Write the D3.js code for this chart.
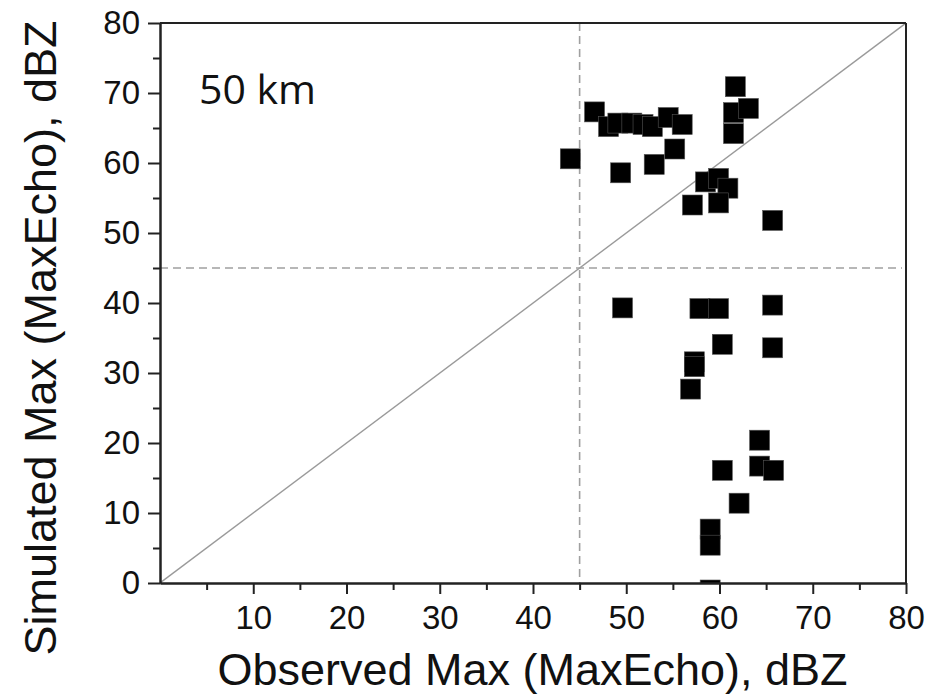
<!DOCTYPE html>
<html>
<head>
<meta charset="utf-8">
<script src="https://cdn.jsdelivr.net/npm/d3@7"></script>
<style>
  body { margin: 0; background: #fff; }
  text { font-family: "Liberation Sans", Arial, sans-serif; fill: #111; }
</style>
</head>
<body>
<div id="chart"></div>
<script>
// observed vs simulated max echo (dBZ), 50 km
var obsMax = [44.0, 46.6, 48.1, 49.1, 50.6, 51.8, 52.8, 54.5, 56.0, 55.2, 53.0, 49.4,
              61.7, 61.5, 63.1, 61.5, 58.5, 59.9, 60.9, 57.1, 59.9, 65.7,
              49.6, 57.9, 59.9, 65.7, 60.3, 65.7, 57.3, 57.3, 56.9,
              64.3, 64.3, 65.8, 60.3, 62.1, 59.0, 59.0, 59.0];
var simMax = [60.6, 67.3, 65.2, 65.7, 65.7, 65.5, 65.2, 66.5, 65.5, 62.0, 59.8, 58.6,
              70.9, 67.2, 67.8, 64.2, 57.3, 57.8, 56.4, 54.0, 54.3, 51.8,
              39.3, 39.2, 39.2, 39.7, 34.1, 33.6, 31.6, 30.9, 27.7,
              20.4, 16.7, 16.1, 16.1, 11.4, 7.7, 5.4, -1.0];
var xTicks = [10, 20, 30, 40, 50, 60, 70, 80];
var yTicks = [0, 10, 20, 30, 40, 50, 60, 70, 80];
var minorTicks = [5, 15, 25, 35, 45, 55, 65, 75];
var threshold = 45;

var margin = {top: 23, right: 34, bottom: 111, left: 160},
    width = 940 - margin.left - margin.right,
    height = 694 - margin.top - margin.bottom;

var svg = d3.select("#chart")
  .append("svg")
  .attr("width", 940)
  .attr("height", 694)
  .append("g")
  .attr("transform", "translate(" + margin.left + "," + margin.top + ")");

var x = d3.scaleLinear().domain([0, 80]).range([0, width]);
var y = d3.scaleLinear().domain([0, 80]).range([height, 0]);

svg.append("clipPath").attr("id", "plotclip")
  .append("rect").attr("width", width).attr("height", height);

var plot = svg.append("g").attr("clip-path", "url(#plotclip)");

// 1:1 line
plot.append("line")
  .attr("x1", x(0)).attr("y1", y(0))
  .attr("x2", x(80)).attr("y2", y(80))
  .attr("stroke", "#9a9a9a").attr("stroke-width", 1.4);

// 45 dBZ threshold lines
plot.append("line")
  .attr("x1", x(threshold)).attr("x2", x(threshold))
  .attr("y1", y(80)).attr("y2", y(0))
  .attr("stroke", "#a0a0a0").attr("stroke-width", 1.6)
  .attr("stroke-dasharray", "8,5");
plot.append("line")
  .attr("x1", x(0)).attr("x2", x(80) - 4)
  .attr("y1", y(threshold)).attr("y2", y(threshold))
  .attr("stroke", "#a0a0a0").attr("stroke-width", 1.6)
  .attr("stroke-dasharray", "8,5");

// squares
var sz = 20;
plot.selectAll("rect.pt")
  .data(obsMax)
  .enter()
  .append("rect")
  .attr("class", "pt")
  .attr("x", function(d) { return x(d) - sz / 2; })
  .attr("y", function(d, i) { return y(simMax[i]) - sz / 2; })
  .attr("width", sz)
  .attr("height", sz)
  .attr("fill", "#000")
  .attr("stroke", "#555")
  .attr("stroke-width", 0.6);

// frame (top and right plain)
svg.append("line").attr("x1", 0).attr("x2", width).attr("y1", 0).attr("y2", 0)
  .attr("stroke", "#222").attr("stroke-width", 2);
svg.append("line").attr("x1", width).attr("x2", width).attr("y1", 0).attr("y2", height)
  .attr("stroke", "#222").attr("stroke-width", 2);

// axes
svg.append("g")
  .attr("transform", "translate(0," + height + ")")
  .call(d3.axisBottom(x).tickValues(xTicks).tickSize(11).tickPadding(12).tickSizeOuter(0));
svg.append("g")
  .attr("transform", "translate(0," + height + ")")
  .call(d3.axisBottom(x).tickValues(minorTicks).tickSize(7).tickFormat("").tickSizeOuter(0));

svg.append("g")
  .call(d3.axisLeft(y).tickValues(yTicks).tickSize(12).tickPadding(8).tickSizeOuter(0));
svg.append("g")
  .call(d3.axisLeft(y).tickValues(minorTicks).tickSize(7).tickFormat("").tickSizeOuter(0));

svg.selectAll(".domain").attr("stroke", "#222").attr("stroke-width", 2);
svg.selectAll(".tick line").attr("stroke", "#222").attr("stroke-width", 2);
svg.selectAll(".tick text")
  .style("font-family", '"Liberation Sans", Arial, sans-serif')
  .style("font-size", "33px")
  .attr("fill", "#111");

// labels
svg.append("text")
  .attr("x", 372.5)
  .attr("y", height + 102)
  .attr("text-anchor", "middle")
  .style("font-size", "45px")
  .text("Observed Max (MaxEcho), dBZ");

svg.append("g")
  .attr("transform", "translate(" + (-104) + ", " + (height / 2 + 35) + ")")
  .append("text")
  .attr("text-anchor", "middle")
  .attr("transform", "rotate(-90)")
  .style("font-size", "45px")
  .text("Simulated Max (MaxEcho), dBZ");

svg.append("text")
  .attr("x", 39)
  .attr("y", 81)
  .style("font-family", '"Open Sans", "Noto Sans", sans-serif')
  .style("font-size", "41px")
  .text("50 km");
</script>
</body>
</html>
